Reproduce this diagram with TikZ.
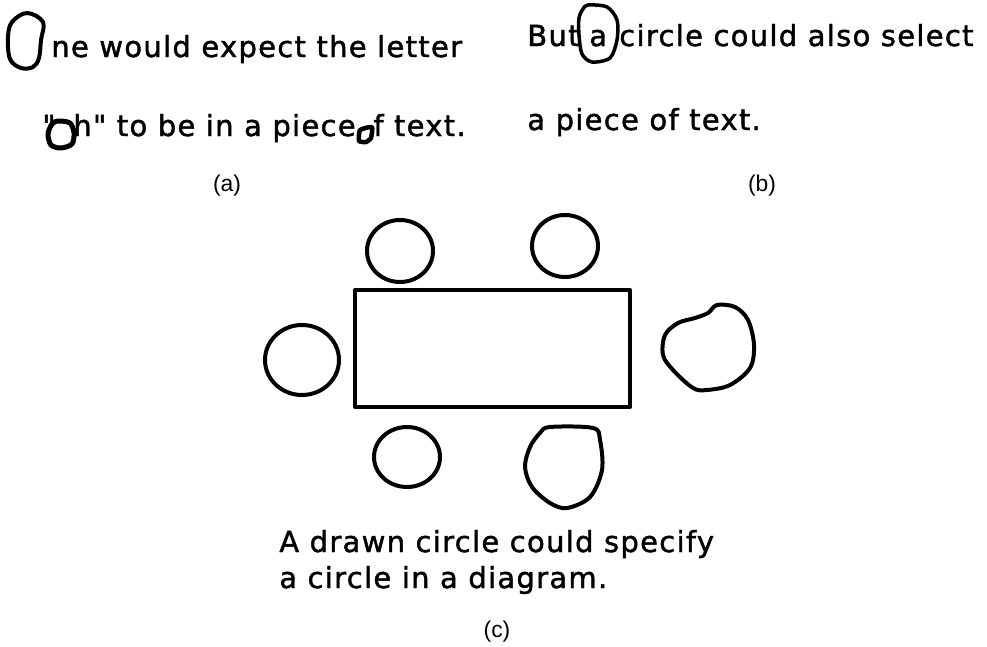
\documentclass[tikz,border=0pt]{standalone}
\usepackage{fontspec}
\setmainfont{DejaVu Sans}[LetterSpace=4.5, Ligatures=TeXOff, FakeBold=1.5]
\newfontfamily\capfont{Liberation Sans}
\tikzstyle{screen} = [font=\fontsize{16.5}{19}\selectfont, inner sep=0pt, anchor=base west]
\tikzstyle{caption} = [font=\capfont\fontsize{13}{15}\selectfont, inner sep=0pt]
\tikzstyle{pen} = [line width=0.08cm, line join=round, line cap=round]

\begin{document}
\begin{tikzpicture}[x=0.02cm, y=-0.02cm]
    \useasboundingbox (0,0) rectangle (987,646);

    % (a) circling letters in running text
    \node[screen] (la1) at (51,57) {ne would expect the letter};
    \node[screen] (lq) at (42,136) {"};
    \node[screen] (la2) at (73,136) {h" to be in a piece};
    \node[screen] (la3) at (373,136) {f text.};
    \draw[pen] plot[smooth cycle, tension=0.6] coordinates {(27,13) (43,22) (41,40) (39,58) (33,67) (21,68) (10,59) (8,37) (12,22)};
    \draw[pen, line width=0.1cm] plot[smooth cycle, tension=0.5] coordinates {(58,121) (70,123) (74,133) (72,144) (61,148) (51,145) (48,134) (52,124)};
    \draw[pen, line width=0.09cm] plot[smooth cycle, tension=0.3] coordinates {(360,130) (372,127) (371,138) (366,142) (359,141)};
    \node[caption] (capa) at (227,186) {(a)};

    % (b) circling a word
    \node[screen] (lb1) at (527,46) {But};
    \node[screen] (lba) at (589,46) {a};
    \node[screen] (lb2) at (619,46) {circle could also select};
    \node[screen] (lb3) at (527,130) {a piece of text.};
    \draw[pen, line width=0.07cm] plot[smooth cycle, tension=0.5] coordinates {(588,5) (607,7) (617,20) (617,40) (610,58) (592,62) (582,54) (579,35) (579,18) (583,9)};
    \node[caption] (capb) at (762,186) {(b)};

    % (c) circling objects in a diagram
    \draw[pen] (355,290) rectangle (630,407);
    \draw[pen] (400,251) ellipse [x radius=33, y radius=31];
    \draw[pen] (565,246) ellipse [x radius=33, y radius=31];
    \draw[pen] (302,360) ellipse [x radius=37, y radius=35];
    \draw[pen] (407,457) ellipse [x radius=33, y radius=30];
    \draw[pen] plot[smooth cycle, tension=0.55] coordinates {(717,305) (735,307) (748,320) (754,345) (750,368) (730,385) (707,390) (693,388) (673,370) (663,355) (665,335) (678,323) (695,318) (708,313)};
    \draw[pen] plot[smooth cycle, tension=0.55] coordinates {(550,427) (593,428) (600,440) (602,470) (590,497) (567,508) (550,503) (532,487) (525,467) (530,447) (540,433)};
    \node[screen] (lc1) at (279,552) {A drawn circle could specify};
    \node[screen] (lc2) at (279,588) {a circle in a diagram.};
    \node[caption] (capc) at (497,632) {(c)};
\end{tikzpicture}
\end{document}
